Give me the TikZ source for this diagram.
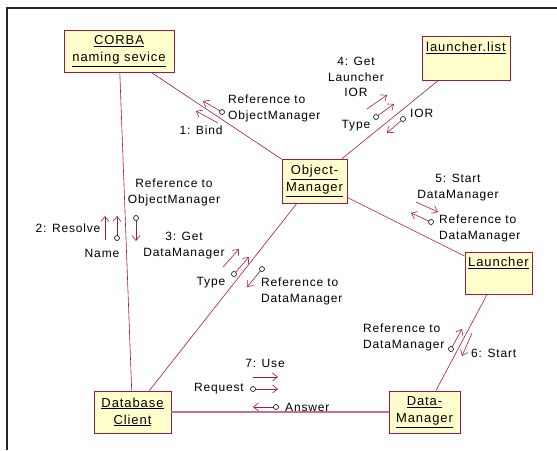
\documentclass[tikz,border=0pt]{standalone}
\usepackage{fontspec}
\setmainfont{Liberation Sans}[LetterSpace=7]
\usetikzlibrary{arrows.meta}
\definecolor{umlred}{RGB}{160,24,72}
\definecolor{umlpink}{RGB}{204,110,145}
\definecolor{umlyellow}{RGB}{255,255,204}
\begin{document}
\begin{tikzpicture}
  [x=1pt,y=-1pt,
   box/.style={draw=umlred,fill=umlyellow,thick,inner sep=0,align=center,
     font=\fontsize{13}{17}\selectfont},
   lbl/.style={inner sep=0,font=\fontsize{12}{16}\selectfont},
   msg/.style={umlred,semithick,-{Straight Barb[length=5pt,width=8pt]}},
   tok/.style={circle,draw=black,fill=white,inner sep=0,minimum size=5pt,semithick}]

  \useasboundingbox (0,0) rectangle (557,450);

  % marco
  \draw[line width=1.5pt,black!85] (7,450) -- (7,8) -- (557,8);

  % objetos
  \node[box,minimum width=110,minimum height=42] (corba) at (119,51)
    {\underline{CORBA}\\\underline{naming sevice}};
  \node[box,minimum width=88,minimum height=44] (list) at (466,58) {};
  \node[lbl,font=\fontsize{13}{17}\selectfont] (listname) at (466,48) {\underline{launcher.list}};
  \node[box,minimum width=65,minimum height=44] (om) at (314.5,181)
    {\underline{Object-}\\\underline{Manager}};
  \node[box,minimum width=67,minimum height=42] (launcher) at (498.5,273) {};
  \node[lbl,font=\fontsize{13}{17}\selectfont] (launchername) at (498.5,263) {\underline{Launcher}};
  \node[box,minimum width=77,minimum height=42] (client) at (132.5,412)
    {\underline{Database}\\\underline{Client}};
  \node[box,minimum width=71,minimum height=42] (dm) at (424.5,412)
    {\underline{Data-}\\\underline{Manager}};

  % enlaces
  \foreach \from/\to in {corba/om, corba/client, list/om, om/launcher, om/client, launcher/dm}
    \draw[umlred,semithick] (\from) -- (\to);
  \draw[umlpink,line width=1.6pt] (client) -- (dm);

  % mensajes
  \foreach \x/\y/\u/\v in {218/123/196/111, 105/240/105/216, 223/267/239/249,
                           367/109/387/95, 416/202/438/212, 472/333/462/356,
                           253/377/278/377}
    \draw[msg] (\x,\y) -- (\u,\v);

  % flujos de datos
  \foreach \x/\y/\u/\v in {222/112/203/101, 117/238/117/216, 136/218/136/241,
                           234/274/249/257, 262/269/247/287, 376/117/394/104,
                           403/119/387/133, 431/222/411/213, 451/349/462/329,
                           253/389/278/389, 276/407/253/407}
    {\draw[msg] (\x,\y) -- (\u,\v);
     \node[tok] at (\x,\y) {};}

  % etiquetas
  \node[lbl,anchor=west,align=left] (l1r) at (228,108) {Reference to\\ObjectManager};
  \node[lbl] (l1) at (201,130) {1: Bind};
  \node[lbl] (l2) at (68,228) {2: Resolve};
  \node[lbl] (l2a) at (102,253) {Name};
  \node[lbl,align=center] (l2r) at (174,192) {Reference to\\ObjectManager};
  \node[lbl,align=center] (l3) at (184,246) {3: Get\\DataManager};
  \node[lbl] (l3a) at (211,283) {Type};
  \node[lbl,anchor=west,align=left] (l3r) at (261,291) {Reference to\\DataManager};
  \node[lbl,align=center,font=\fontsize{12}{15.5}\selectfont] (l4) at (356,77) {4: Get\\Launcher\\IOR};
  \node[lbl] (l4a) at (356,126) {Type};
  \node[lbl,anchor=west] (l4r) at (410,113) {IOR};
  \node[lbl,align=center] (l5) at (458,188) {5: Start\\DataManager};
  \node[lbl,anchor=west,align=left] (l5r) at (439,228) {Reference to\\DataManager};
  \node[lbl,anchor=west,align=left] (l6r) at (363,337) {Reference to\\DataManager};
  \node[lbl,anchor=west] (l6) at (471,353) {6: Start};
  \node[lbl] (l7) at (265,363) {7: Use};
  \node[lbl,anchor=east] (l7a) at (244,389) {Request};
  \node[lbl,anchor=west] (l7r) at (285,407) {Answer};

\end{tikzpicture}
\end{document}
